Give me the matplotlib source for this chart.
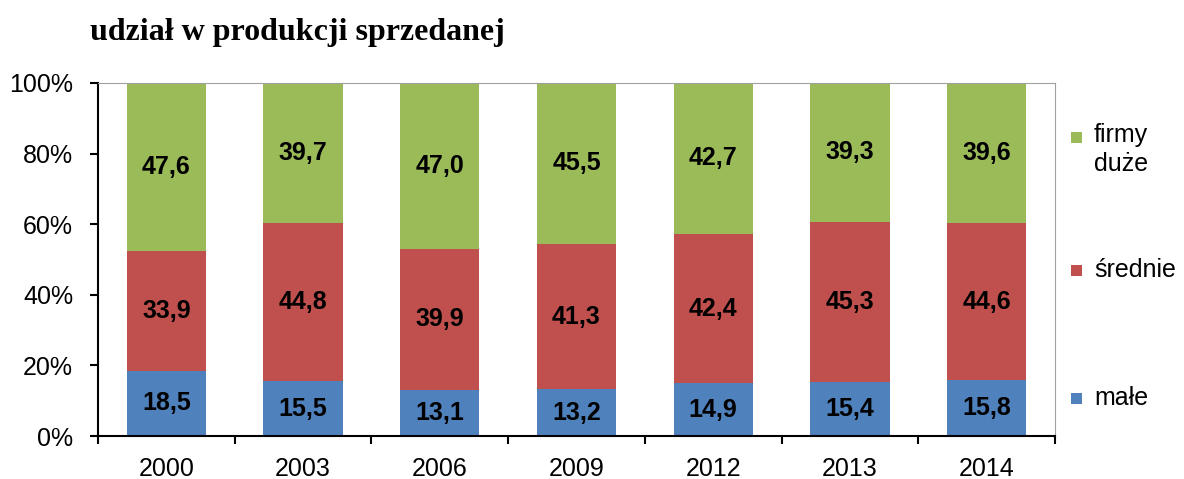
import numpy as np
import matplotlib.pyplot as plt
from matplotlib.patches import Rectangle

years = ['2000', '2003', '2006', '2009', '2012', '2013', '2014']
male = [18.5, 15.5, 13.1, 13.2, 14.9, 15.4, 15.8]
srednie = [33.9, 44.8, 39.9, 41.3, 42.4, 45.3, 44.6]
duze = [47.6, 39.7, 47.0, 45.5, 42.7, 39.3, 39.6]
series_names = ['małe', 'średnie', 'firmy\nduże']
colors = ['#4F81BD', '#C0504D', '#9BBB59']

plt.rcParams['font.family'] = ['Liberation Sans', 'DejaVu Sans']

fig = plt.figure(figsize=(11.84, 4.79), dpi=100)
ax = fig.add_axes([98/1184, 1 - 436/479, (1055 - 98)/1184, (436 - 83)/479])

x = np.arange(len(years))
bottom = np.zeros(len(years))
for vals, col in zip([male, srednie, duze], colors):
    vals = np.array(vals)
    ax.bar(x, vals, 0.58, bottom=bottom, color=col, linewidth=0)
    for xi, b, v in zip(x, bottom, vals):
        ax.text(xi, b + v/2, ('%.1f' % v).replace('.', ','), ha='center', va='center',
                fontsize=18, fontweight='bold', color='black')
    bottom += vals

ax.set_xlim(-0.5, len(years) - 0.5)
ax.set_ylim(0, 100)
ax.set_yticks(np.arange(0, 101, 20))
ax.set_yticklabels(['%d%%' % v for v in range(0, 101, 20)], fontsize=18)
ax.set_xticks(x)
ax.set_xticklabels(years, fontsize=18)
ax.set_xticks(np.arange(-0.5, len(years)), minor=True)
ax.tick_params(axis='x', which='major', length=0, pad=15)
ax.tick_params(axis='x', which='minor', length=6, width=1.5, direction='out')
ax.tick_params(axis='y', length=6, width=1.5, direction='out', pad=12)

for s in ['top', 'right']:
    ax.spines[s].set_color('#A0A0A0')
    ax.spines[s].set_linewidth(0.8)
for s in ['left', 'bottom']:
    ax.spines[s].set_color('black')
    ax.spines[s].set_linewidth(1.5)

fig.text(90/1184, 1 - 40/479, 'udział w produkcji sprzedanej', fontsize=23,
         fontweight='bold', family=['Liberation Serif', 'DejaVu Serif'], va='baseline')

# legend, placed by hand
leg_y = [398, 270, 123]
for name, col, yy in zip(series_names, colors, leg_y):
    sq_y = yy + 14 if '\n' in name else yy
    fig.patches.append(Rectangle((1071/1184, 1 - (sq_y + 6)/479), 11/1184, 11/479,
                                 transform=fig.transFigure, color=col, linewidth=0))
    fig.text(1094/1184, 1 - yy/479, name, fontsize=18, va='top' if '\n' in name else 'center',
             ha='left', linespacing=1.25)

plt.savefig('out.png', dpi=100)
